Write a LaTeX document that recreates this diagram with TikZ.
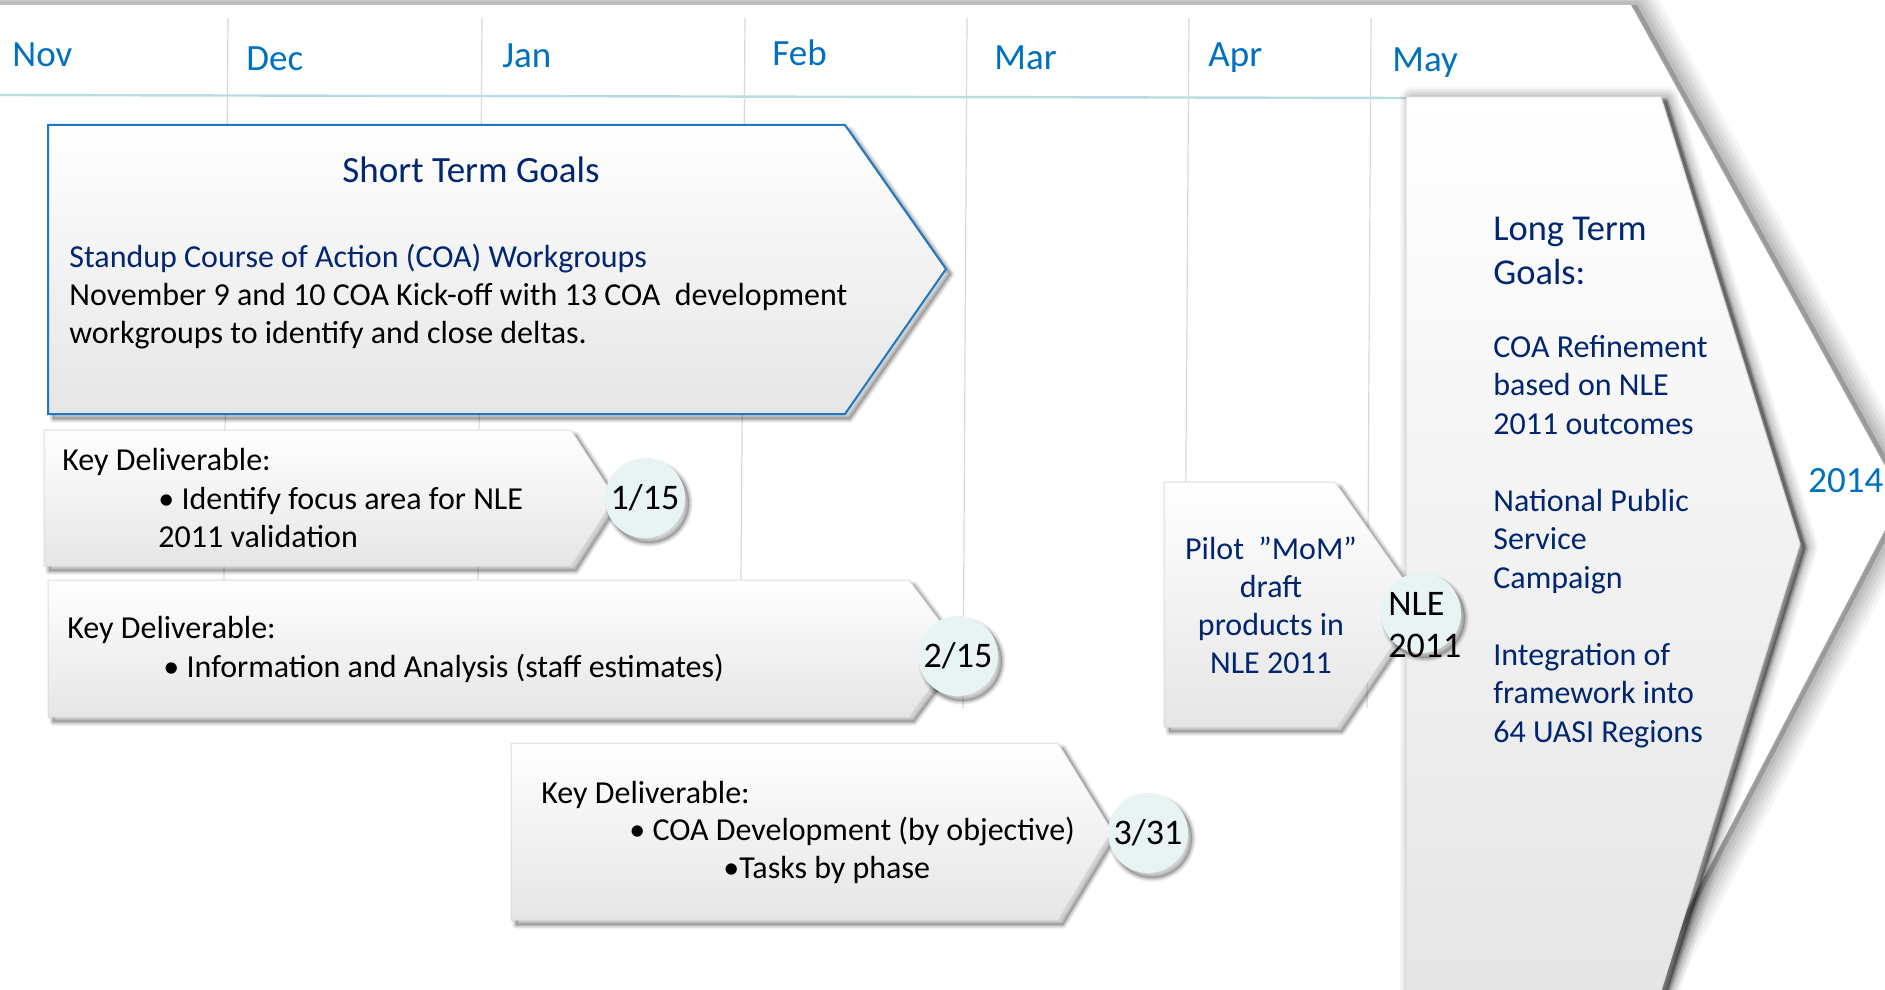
\documentclass[tikz,border=0pt]{standalone}
\usepackage{fontspec}
\setmainfont{Carlito}
\usepackage{xcolor}

\definecolor{monthblue}{RGB}{0,112,192}
\definecolor{navytext}{RGB}{0,38,112}
\definecolor{stblue}{RGB}{31,120,196}
\definecolor{gridgray}{RGB}{217,217,217}
\definecolor{linecyan}{RGB}{183,221,226}
\definecolor{dotfill}{RGB}{232,244,244}

\tikzset{
  castshadow/.style n args={3}{% x shift, y shift, spread
    preaction={draw=black, draw opacity=.035, line width=#3, line join=round, transform canvas={shift={(#1,#2)}}},
    preaction={draw=black, draw opacity=.04, line width=#3*0.83, line join=round, transform canvas={shift={(#1,#2)}}},
    preaction={draw=black, draw opacity=.045, line width=#3*0.67, line join=round, transform canvas={shift={(#1,#2)}}},
    preaction={draw=black, draw opacity=.05, line width=#3*0.5, line join=round, transform canvas={shift={(#1,#2)}}},
    preaction={draw=black, draw opacity=.055, line width=#3*0.33, line join=round, transform canvas={shift={(#1,#2)}}},
    preaction={draw=black, draw opacity=.06, line width=#3*0.17, line join=round, transform canvas={shift={(#1,#2)}}},
    preaction={fill=black, fill opacity=.18, transform canvas={shift={(#1,#2)}}}}
}

\begin{document}
\begin{tikzpicture}[x=0.5pt, y=-0.5pt, line join=miter,
  month/.style={anchor=base west, inner sep=0pt, text=monthblue, font=\fontsize{18.5}{22}\selectfont},
  gridline/.style={draw=gridgray, line width=0.6pt},
  panel/.style={draw=gray!28, line width=0.5pt, top color=white, bottom color=gray!20, castshadow={2.5pt}{-2.5pt}{4pt}},
  body/.style={anchor=base west, inner sep=0pt, align=left, font=\fontsize{16}{19}\selectfont},
  milestone/.style={circle, fill=dotfill, minimum size=40pt, inner sep=0pt, font=\fontsize{18}{21}\selectfont,
    castshadow={2pt}{-2.5pt}{4pt}}]
  \fill[white] (0,0) rectangle (1885,990);
  \useasboundingbox (0,0) rectangle (1885,990);

  % Timeline sheet.
  \fill[white, castshadow={3pt}{0pt}{22pt}]
    (-60,5) -- (1631,5) -- (1902,497) -- (1619,1040) -- (-60,1040) -- cycle;
  \draw[linecyan, line width=1.2pt] (0,95) -- (1406,98);
  \foreach \gx/\gy in {228/582,482/582,745/580,967/708,1189/600,1371/708}
    \draw[gridline] (\gx,18) -- (\gx-4,\gy);
  \foreach \mx/\my/\mname in {12/67/Nov,246/71/Dec,502/68/Jan,772/66/Feb,994/70/Mar,1208/67/Apr,1392/72/May}
    \node[month] (m\mname) at (\mx,\my) {\mname};
  \node[month] (y2014) at (1808,492) {2014};

  % Short term goals.
  \path[panel, draw=stblue, line width=1pt] (48,125) -- (845,125) -- (946,269) -- (845,414) -- (48,414) -- cycle;
  \node[anchor=base, inner sep=0pt, text=navytext, font=\fontsize{18.5}{22}\selectfont] (sttitle) at (471,183) {Short Term Goals};
  \node[body] (stbody) at (69,343) {\textcolor{navytext}{Standup Course of Action (COA) Workgroups}\\
    November 9 and 10 COA Kick-off with 13 COA \ development\\
    workgroups to identify and close deltas.};

  % Key deliverables.
  \path[panel] (44,430) -- (571,430) -- (615,498) -- (571,566) -- (44,566) -- cycle;
  \node[body] (kd1) at (62,470) {Key Deliverable:};
  \node[body] (kd1items) at (158,547) {• Identify focus area for NLE\\2011 validation};
  \node[milestone] (d115) at (645,498) {1/15};

  \path[panel] (48,580) -- (909,580) -- (960,648) -- (909,717) -- (48,717) -- cycle;
  \node[body] (kd2) at (67,638) {Key Deliverable:};
  \node[body] (kd2items) at (163,677) {• Information and Analysis (staff estimates)};
  \node[milestone] (d215) at (958,656) {2/15};

  \path[panel] (511,743) -- (1058,743) -- (1112,831) -- (1058,920) -- (511,920) -- cycle;
  \node[body] (kd3) at (541,803) {Key Deliverable:};
  \node[body] (kd3items) at (629,840) {• COA Development (by objective)};
  \node[body] (kd3sub) at (723,878) {•Tasks by phase};
  \node[milestone] (d331) at (1148,833) {3/31};

  % Long term goals.
  \path[panel, castshadow={3pt}{-1pt}{12pt}]
    (1406,97) -- (1661,97) -- (1800,544) -- (1661,991) -- (1406,991) -- cycle;
  \node[body, text=navytext, font=\fontsize{18.2}{22}\selectfont] (lttitle) at (1493,284) {Long Term\\Goals:};
  \node[body, text=navytext, font=\fontsize{16}{19.25}\selectfont] (ltbody) at (1493,742)
    {COA Refinement\\based on NLE\\2011 outcomes\\[19.25pt]National Public\\Service\\Campaign\\[19.25pt]Integration of\\framework into\\64 UASI Regions};

  % Pilot.
  \path[panel] (1164,482) -- (1335,482) -- (1421,604) -- (1337,727) -- (1164,727) -- cycle;
  \node[body, anchor=base, align=center, text=navytext] (pilot) at (1271,673) {Pilot \ ”MoM”\\draft\\products in\\NLE 2011};
  \node[milestone] (dnle) at (1421,613) {};
  \node[body, font=\fontsize{18}{21}\selectfont] (nletext) at (1388,657) {NLE\\2011};
\end{tikzpicture}
\end{document}
